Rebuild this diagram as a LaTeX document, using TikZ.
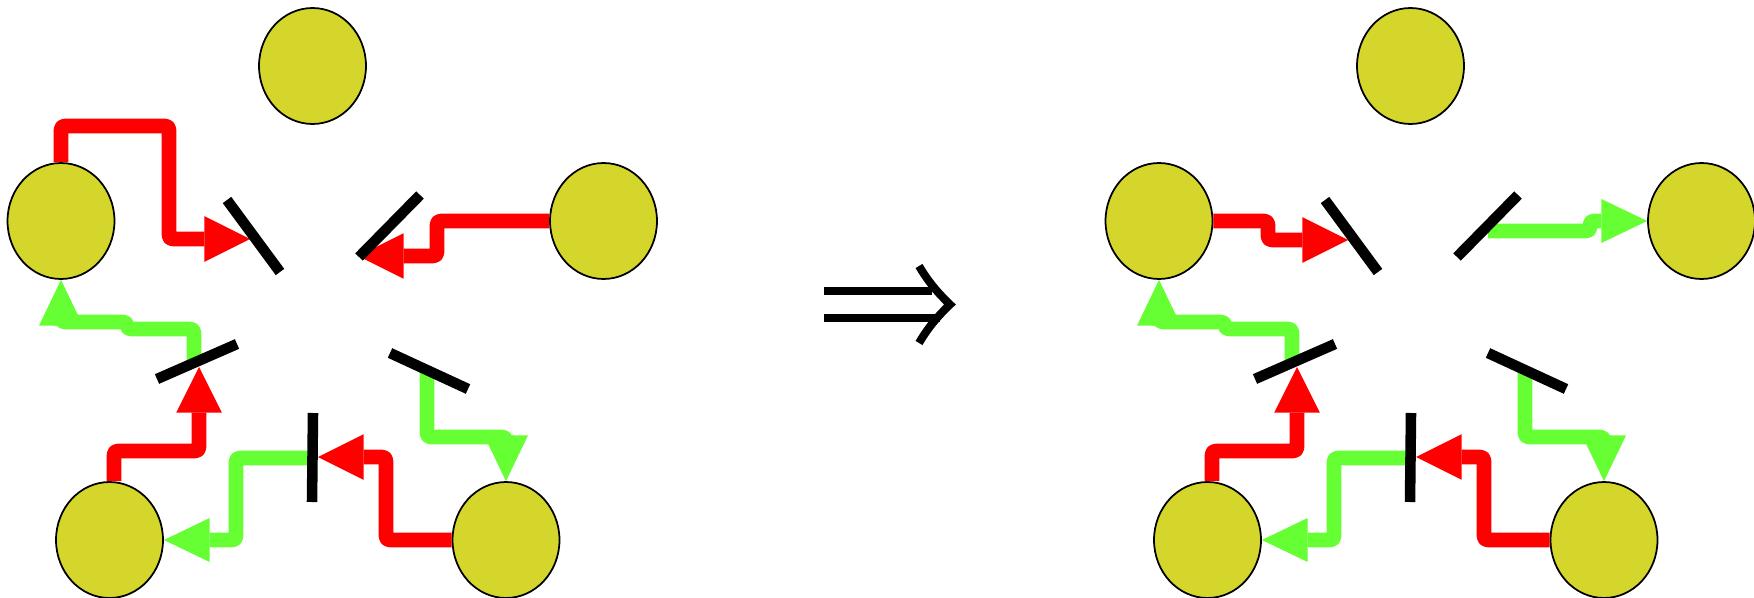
\documentclass[tikz,border=0pt]{standalone}
\usetikzlibrary{arrows.meta,shapes.geometric}
\definecolor{yel}{RGB}{213,214,44}
\definecolor{grn}{RGB}{102,255,51}
\definecolor{rd}{RGB}{255,0,0}
\begin{document}
\begin{tikzpicture}[x=0.02cm,y=-0.02cm,
  ell/.style={ellipse,draw=black,line width=1pt,fill=yel,minimum width=2.14cm,minimum height=2.32cm,inner sep=0pt},
  beam/.style={line width=8.3pt,rounded corners=2pt,line cap=butt,line join=round},
  rbeam/.style={beam,draw=rd,-{Triangle[length=26pt,width=26pt,line width=0pt]}},
  gbeam/.style={beam,draw=grn,-{Triangle[length=26pt,width=25pt,line width=0pt]}},
  mirror/.style={draw=black,line width=6pt},
  impl/.style={draw=black,line width=4.6pt}]
\fill[white] (0,0) rectangle (1754,598);
\useasboundingbox (0,0) rectangle (1754,598);
% common parts of both panels
\foreach \p/\dx in {a/0,b/1098}{
\begin{scope}[shift={(\dx,0)}]
  \node[ell] (\p T) at (312.5,66) {};
  \node[ell] (\p L) at (61,221) {};
  \node[ell] (\p R) at (603.5,221) {};
  \node[ell] (\p BL) at (109.5,540) {};
  \node[ell] (\p BR) at (506,540) {};
  \coordinate (\p h3) at (194,362);
  \coordinate (\p t3) at (199,367);
  \coordinate (\p h5) at (312,458);
  \coordinate (\p t5) at (318,457);
  \coordinate (\p h4) at (427,370);
  \draw[gbeam] (\p h3) -- (194,329) -- (127,329) -- (127,322) -- (61,322) -- (\p L.south);
  \draw[rbeam] ([xshift=0.09cm]\p BL.north) -- (114,451) -- (199,451) -- (\p t3);
  \draw[gbeam] (\p h5) -- (236,458) -- (236,540) -- (\p BL.east);
  \draw[rbeam] (\p BR.west) -- (386,540) -- (386,457) -- (\p t5);
  \draw[gbeam] (\p h4) -- (427,437) -- (506,437) -- (\p BR.north);
\end{scope}}
% left panel, upper beams
\coordinate (at1) at (250,239);
\coordinate (at2) at (358,256);
\draw[rbeam] (aL.north) -- (61,126) -- (169,126) -- (169,239) -- (at1);
\draw[rbeam] (aR.west) -- (437,221) -- (437,256) -- (at2);
% right panel, upper beams
\coordinate (bt1) at (1348,240);
\coordinate (bh2) at (1488,231);
\draw[rbeam] (bL.east) -- (1268,221) -- (1268,240) -- (bt1);
\draw[gbeam] (bh2) -- (1590,231) -- (1590,221) -- (bR.west);
% mirrors
\foreach \p/\dx in {a/0,b/1098}{
\begin{scope}[shift={(\dx,0)}]
  \coordinate (\p m1a) at (227,200); \coordinate (\p m1b) at (280,272);
  \coordinate (\p m2a) at (359,257); \coordinate (\p m2b) at (420,195);
  \coordinate (\p m3a) at (157,379); \coordinate (\p m3b) at (237,344);
  \coordinate (\p m4a) at (390,353); \coordinate (\p m4b) at (468,389);
  \coordinate (\p m5a) at (313,413); \coordinate (\p m5b) at (312,502);
  \draw[mirror] (\p m1a) -- (\p m1b);
  \draw[mirror] (\p m2a) -- (\p m2b);
  \draw[mirror] (\p m3a) -- (\p m3b);
  \draw[mirror] (\p m4a) -- (\p m4b);
  \draw[mirror] (\p m5a) -- (\p m5b);
\end{scope}}
% implies sign
\coordinate (i1) at (824,291); \coordinate (i2) at (932,291);
\coordinate (i3) at (824,318); \coordinate (i4) at (940,318);
\draw[impl] (i1) -- (i2);
\draw[impl] (i3) -- (i4);
\draw[impl] (919,266) .. controls (929,283) and (939,294) .. (950,304.5) .. controls (939,315) and (929,326) .. (919,343);
\end{tikzpicture}
\end{document}
